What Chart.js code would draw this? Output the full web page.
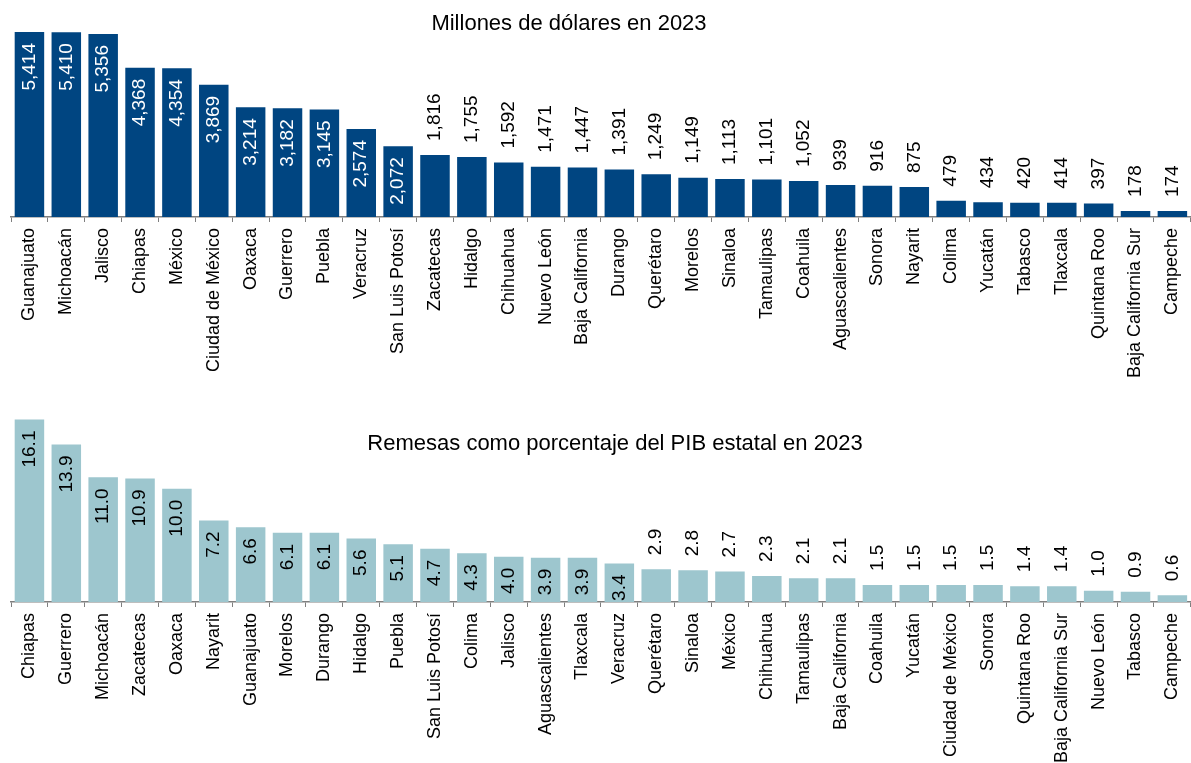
<!DOCTYPE html>
<html>
<head>
<meta charset="utf-8">
<script src="https://cdn.jsdelivr.net/npm/chart.js@4.4.1/dist/chart.umd.min.js"></script>
<style>
  html, body { margin: 0; padding: 0; background: #fff; overflow: hidden; }
  #top { position: absolute; left: 0; top: 0; }
  #bottom { position: absolute; left: 0; top: 390px; }
</style>
</head>
<body>
<canvas id="top" width="1200" height="400"></canvas>
<canvas id="bottom" width="1200" height="373"></canvas>
<script>
// Remesas en millones de dólares, 2023
const estadosUsd = ['Guanajuato', 'Michoacán', 'Jalisco', 'Chiapas', 'México', 'Ciudad de México', 'Oaxaca',
  'Guerrero', 'Puebla', 'Veracruz', 'San Luis Potosí', 'Zacatecas', 'Hidalgo', 'Chihuahua', 'Nuevo León',
  'Baja California', 'Durango', 'Querétaro', 'Morelos', 'Sinaloa', 'Tamaulipas', 'Coahuila', 'Aguascalientes',
  'Sonora', 'Nayarit', 'Colima', 'Yucatán', 'Tabasco', 'Tlaxcala', 'Quintana Roo', 'Baja California Sur', 'Campeche'];
const remesasUsd = [5414, 5410, 5356, 4368, 4354, 3869, 3214, 3182, 3145, 2574, 2072, 1816, 1755, 1592, 1471,
  1447, 1391, 1249, 1149, 1113, 1101, 1052, 939, 916, 875, 479, 434, 420, 414, 397, 178, 174];

// Remesas como % del PIB estatal, 2023
const estadosPib = ['Chiapas', 'Guerrero', 'Michoacán', 'Zacatecas', 'Oaxaca', 'Nayarit', 'Guanajuato', 'Morelos',
  'Durango', 'Hidalgo', 'Puebla', 'San Luis Potosí', 'Colima', 'Jalisco', 'Aguascalientes', 'Tlaxcala', 'Veracruz',
  'Querétaro', 'Sinaloa', 'México', 'Chihuahua', 'Tamaulipas', 'Baja California', 'Coahuila', 'Yucatán',
  'Ciudad de México', 'Sonora', 'Quintana Roo', 'Baja California Sur', 'Nuevo León', 'Tabasco', 'Campeche'];
const remesasPib = [16.1, 13.9, 11.0, 10.9, 10.0, 7.2, 6.6, 6.1, 6.1, 5.6, 5.1, 4.7, 4.3, 4.0, 3.9, 3.9, 3.4,
  2.9, 2.8, 2.7, 2.3, 2.1, 2.1, 1.5, 1.5, 1.5, 1.5, 1.4, 1.4, 1.0, 0.9, 0.6];

const FONT = '"Liberation Sans", Arial, sans-serif';

// etiquetas verticales: dentro de la barra o encima
const barLabels = {
  id: 'barLabels',
  afterDatasetsDraw(chart, args, opts) {
    const ctx = chart.ctx;
    const values = chart.data.datasets[0].data;
    ctx.save();
    ctx.font = '19px ' + FONT;
    ctx.textBaseline = 'middle';
    chart.getDatasetMeta(0).data.forEach((bar, i) => {
      const v = values[i];
      const txt = opts.format(v);
      ctx.save();
      ctx.translate(bar.x, bar.y);
      ctx.rotate(-Math.PI / 2);
      if (v >= opts.inside) {
        ctx.fillStyle = opts.insideColor;
        ctx.textAlign = 'right';
        ctx.fillText(txt, -11, 0);
      } else {
        ctx.fillStyle = '#000';
        ctx.textAlign = 'left';
        ctx.fillText(txt, 14, 0);
      }
      ctx.restore();
    });
    // titulo
    ctx.font = '22px ' + FONT;
    ctx.fillStyle = '#000';
    ctx.textAlign = 'center';
    ctx.textBaseline = 'alphabetic';
    ctx.fillText(opts.title, opts.titleX, opts.titleY);
    ctx.restore();
  }
};

function makeChart(id, labels, values, color, yMax, padTop, axisH, labelOpts) {
  return new Chart(document.getElementById(id), {
    type: 'bar',
    data: {
      labels: labels,
      datasets: [{ data: values, backgroundColor: color, barPercentage: 0.8, categoryPercentage: 1 }]
    },
    options: {
      responsive: false,
      animation: false,
      layout: { padding: { left: 11, right: 1, top: padTop, bottom: 0 } },
      plugins: { legend: { display: false }, tooltip: { enabled: false }, barLabels: labelOpts },
      scales: {
        x: {
          afterFit: s => { s.height = axisH; },
          border: { color: '#7f7f7f', width: 1.5 },
          grid: { drawOnChartArea: false, drawTicks: true, tickLength: 5, color: '#7f7f7f', offset: true },
          ticks: { autoSkip: false, maxRotation: 90, minRotation: 90, padding: 6, color: '#000',
                   font: { family: FONT, size: 18 } }
        },
        y: { display: false, min: 0, max: yMax }
      }
    },
    plugins: [barLabels]
  });
}

makeChart('top', estadosUsd, remesasUsd, '#004581', 6000, 12, 183, {
  inside: 2000,
  insideColor: '#fff',
  format: v => v.toLocaleString('en-US'),
  title: 'Millones de dólares en 2023', titleX: 569, titleY: 30
});

makeChart('bottom', estadosPib, remesasPib, '#9dc6ce', 18, 8, 161, {
  inside: 3,
  insideColor: '#000',
  format: v => v.toFixed(1),
  title: 'Remesas como porcentaje del PIB estatal en 2023', titleX: 615, titleY: 60
});
</script>
</body>
</html>
